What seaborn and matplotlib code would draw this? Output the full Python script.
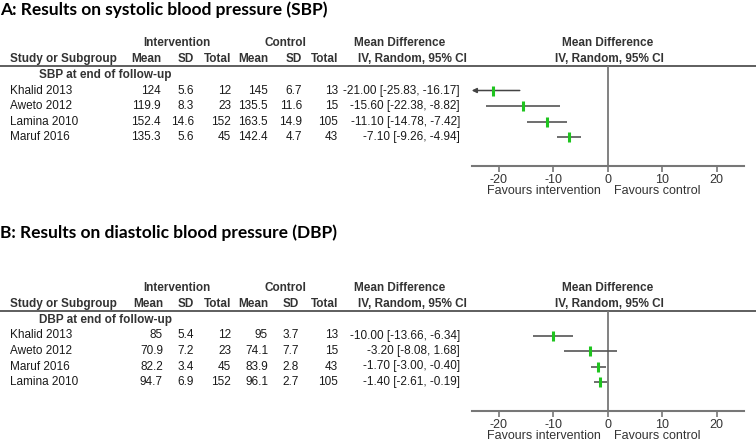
import seaborn as sns
import matplotlib.pyplot as plt

# ---- data ----
studies_a = ['Khalid 2013', 'Aweto 2012', 'Lamina 2010', 'Maruf 2016']
int_mean_a = [124, 119.9, 152.4, 135.3]
int_sd_a = [5.6, 8.3, 14.6, 5.6]
int_n_a = [12, 23, 152, 45]
ctl_mean_a = [145, 135.5, 163.5, 142.4]
ctl_sd_a = [6.7, 11.6, 14.9, 4.7]
ctl_n_a = [13, 15, 105, 43]
md_a = [-21.00, -15.60, -11.10, -7.10]
lo_a = [-25.83, -22.38, -14.78, -9.26]
hi_a = [-16.17, -8.82, -7.42, -4.94]

studies_b = ['Khalid 2013', 'Aweto 2012', 'Maruf 2016', 'Lamina 2010']
int_mean_b = [85, 70.9, 82.2, 94.7]
int_sd_b = [5.4, 7.2, 3.4, 6.9]
int_n_b = [12, 23, 45, 152]
ctl_mean_b = [95, 74.1, 83.9, 96.1]
ctl_sd_b = [3.7, 7.7, 2.8, 2.7]
ctl_n_b = [13, 15, 43, 105]
md_b = [-10.00, -3.20, -1.70, -1.40]
lo_b = [-13.66, -8.08, -3.00, -2.61]
hi_b = [-6.34, 1.68, -0.40, -0.19]

ticks = [-20, -10, 0, 10, 20]
xlim = (-25, 25)

sns.set_theme(style='white')
plt.rcParams['font.family'] = ['Liberation Sans', 'DejaVu Sans']
plt.rcParams['axes.unicode_minus'] = False

W, H = 756, 443
fig = plt.figure(figsize=(W / 100, H / 100), dpi=100)
bg = fig.add_axes([0, 0, 1, 1])
bg.set_xlim(0, W)
bg.set_ylim(H, 0)
bg.axis('off')

FS = 8.5
HDR = '#333333'
TXT = '#1a1a1a'
GREEN = '#1fc41f'
ROW_H = 15.5
# right edges of table columns
cols = [161, 194, 231, 268, 302, 338]


def fmt(v):
    return f'{v:g}'


def panel(y0, title_y, title, sub, studies, im, isd, inn, cm, csd, cn, md, lo, hi, cols):
    # y0 = y of the header rule
    bg.text(0, title_y, title, fontsize=12.5, fontweight='bold',
            family=['Lato', 'DejaVu Sans'], color='black', va='center')
    bg.text(177, y0 - 23, 'Intervention', fontsize=FS, fontweight='bold', color=HDR,
            ha='center', va='center')
    bg.text(285, y0 - 23, 'Control', fontsize=FS, fontweight='bold', color=HDR,
            ha='center', va='center')
    bg.text(400, y0 - 23, 'Mean Difference', fontsize=FS, fontweight='bold', color=HDR,
            ha='center', va='center')
    bg.text(608, y0 - 23, 'Mean Difference', fontsize=FS, fontweight='bold', color=HDR,
            ha='center', va='center')
    bg.text(10, y0 - 7, 'Study or Subgroup', fontsize=FS, fontweight='bold', color=HDR,
            va='center')
    for x, lab in zip(cols, ['Mean', 'SD', 'Total', 'Mean', 'SD', 'Total']):
        bg.text(x, y0 - 7, lab, fontsize=FS, fontweight='bold', color=HDR,
                ha='right', va='center')
    bg.text(412, y0 - 7, 'IV, Random, 95% CI', fontsize=FS, fontweight='bold', color=HDR,
            ha='center', va='center')
    bg.text(609, y0 - 7, 'IV, Random, 95% CI', fontsize=FS, fontweight='bold', color=HDR,
            ha='center', va='center')
    bg.axhline(y0, color='#333333', lw=1.1)
    bg.text(39, y0 + 9, sub, fontsize=FS, fontweight='bold', color=HDR, va='center')

    row0 = y0 + 24.5
    for i, s in enumerate(studies):
        y = row0 + i * ROW_H
        bg.text(10, y, s, fontsize=FS, color=TXT, va='center')
        vals = [im[i], isd[i], inn[i], cm[i], csd[i], cn[i]]
        for x, v in zip(cols, vals):
            bg.text(x, y, fmt(v), fontsize=FS, color=TXT, ha='right', va='center')
        bg.text(460, y, f'{md[i]:.2f} [{lo[i]:.2f}, {hi[i]:.2f}]', fontsize=FS,
                color=TXT, ha='right', va='center')

    # forest plot axis
    y_axis = y0 + 100
    left, right = 471.7, 743.7
    ax = fig.add_axes([left / W, 1 - y_axis / H, (right - left) / W, (y_axis - y0) / H])
    ax.set_xlim(*xlim)
    ax.set_ylim((y_axis - row0) / ROW_H, (y0 - row0) / ROW_H)
    ax.patch.set_alpha(0)
    rows = list(range(len(studies)))
    for r, l, h in zip(rows, lo, hi):
        if l < xlim[0]:
            ax.annotate('', xy=(xlim[0], r), xytext=(h, r),
                        arrowprops=dict(arrowstyle='-|>', color='#444444', lw=1.1,
                                        mutation_scale=7, shrinkA=0, shrinkB=0))
        else:
            ax.hlines(r, l, h, color='#555555', lw=1.2)
    sns.scatterplot(x=md, y=rows, marker='|', s=45, color=GREEN, linewidth=2.2,
                    ax=ax, zorder=3, legend=False)
    ax.axvline(0, color='#777777', lw=1.3, zorder=1)
    for sp in ['top', 'left', 'right']:
        ax.spines[sp].set_visible(False)
    ax.spines['bottom'].set_color('#777777')
    ax.spines['bottom'].set_linewidth(1.5)
    ax.set_xticks(ticks)
    ax.set_yticks([])
    ax.set_xlabel('')
    ax.set_ylabel('')
    ax.tick_params(axis='x', direction='out', length=4, width=1.2, color='#777777',
                   labelsize=FS + 0.5, labelcolor='#333333', pad=1.5, bottom=True)
    bg.text(601, y_axis + 25, 'Favours intervention', fontsize=FS + 0.5, color='#333333',
            ha='right', va='center')
    bg.text(614, y_axis + 25, 'Favours control', fontsize=FS + 0.5, color='#333333',
            ha='left', va='center')


panel(66, 10, 'A: Results on systolic blood pressure (SBP)', 'SBP at end of follow-up',
      studies_a, int_mean_a, int_sd_a, int_n_a, ctl_mean_a, ctl_sd_a, ctl_n_a,
      md_a, lo_a, hi_a, cols)
panel(311, 233, 'B: Results on diastolic blood pressure (DBP)', 'DBP at end of follow-up',
      studies_b, int_mean_b, int_sd_b, int_n_b, ctl_mean_b, ctl_sd_b, ctl_n_b,
      md_b, lo_b, hi_b, [163, 194, 231, 268, 299, 338])

fig.savefig('out.png', dpi=100)
